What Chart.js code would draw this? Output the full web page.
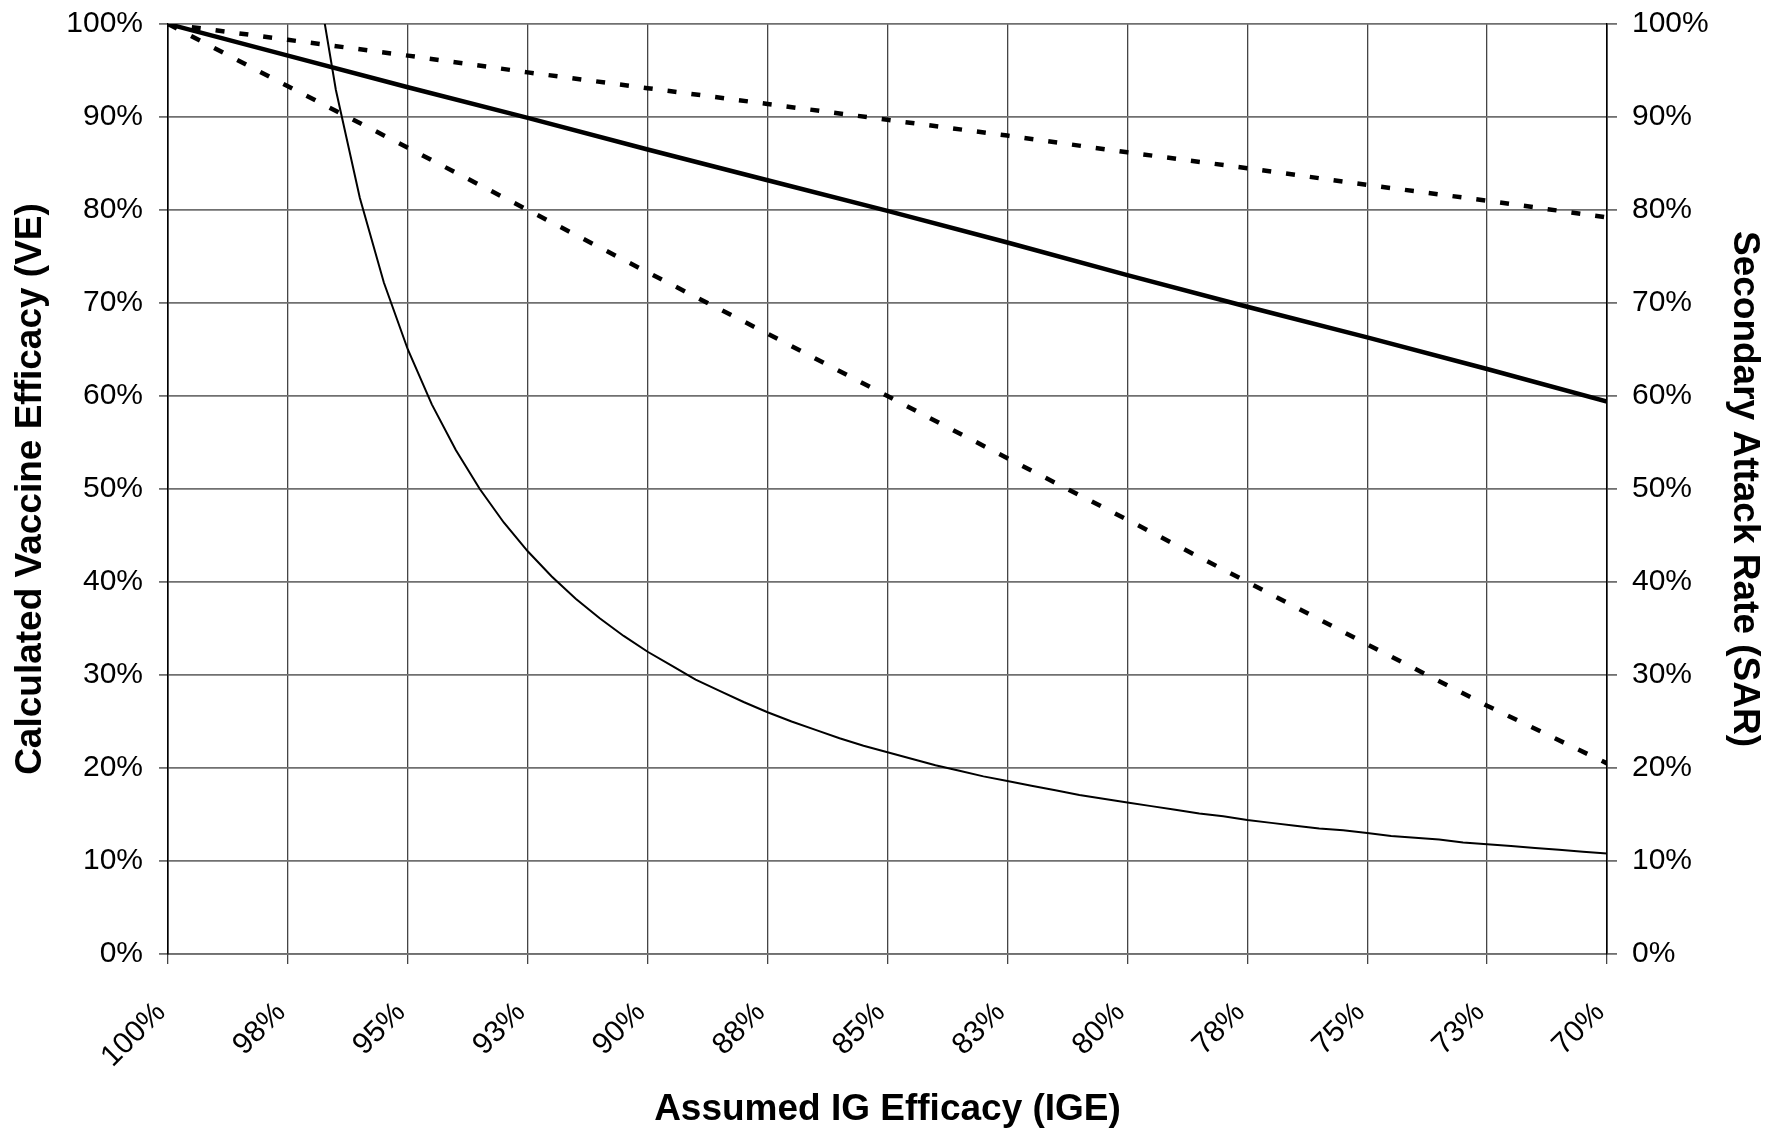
<!DOCTYPE html>
<html>
<head>
<meta charset="utf-8">
<script src="https://cdn.jsdelivr.net/npm/chart.js@4.4.1/dist/chart.umd.min.js"></script>
<style>
  html, body { margin: 0; padding: 0; background: #ffffff; }
  #wrap { width: 1767px; height: 1128px; position: relative; }
</style>
</head>
<body>
<div id="wrap"><canvas id="c" width="1767" height="1128"></canvas></div>
<script>
// Assumed IG efficacy (x, %) for the three VE lines
const igeSteps = [100, 97.5, 95, 92.5, 90, 87.5, 85, 82.5, 80, 77.5, 75, 72.5, 70];
// Calculated vaccine efficacy (%)
const veMid   = [100, 96.6, 93.2, 89.9, 86.5, 83.2, 79.9, 76.5, 73.0, 69.6, 66.3, 62.9, 59.4];
const veHigh  = [100, 98.3, 96.6, 94.8, 93.1, 91.4, 89.7, 88.0, 86.2, 84.5, 82.7, 81.0, 79.2];
const veLow   = [100, 93.3, 86.7, 80.0, 73.3, 66.7, 60.0, 53.3, 46.7, 40.0, 33.3, 26.7, 20.5];
// Secondary attack rate (%)
const sarIge = [97, 96.5, 96, 95.5, 95, 94.5, 94, 93.5, 93, 92.5, 92, 91.5, 91, 90.5, 90,
                89.5, 89, 88.5, 88, 87.5, 87, 86.5, 86, 85.5, 85, 84.5, 84, 83.5, 83, 82.5,
                82, 81.5, 81, 80.5, 80, 79.5, 79, 78.5, 78, 77.5, 77, 76.5, 76, 75.5, 75,
                74.5, 74, 73.5, 73, 72.5, 72, 71.5, 71, 70.5, 70];
const sarVal = [108.3, 92.9, 81.3, 72.2, 65.0, 59.1, 54.2, 50.0, 46.4, 43.3, 40.6, 38.2, 36.1, 34.2, 32.5,
                31.0, 29.5, 28.3, 27.1, 26.0, 25.0, 24.1, 23.2, 22.4, 21.7, 21.0, 20.3, 19.7, 19.1, 18.6,
                18.1, 17.6, 17.1, 16.7, 16.3, 15.9, 15.5, 15.1, 14.8, 14.4, 14.1, 13.8, 13.5, 13.3, 13.0,
                12.7, 12.5, 12.3, 12.0, 11.8, 11.6, 11.4, 11.2, 11.0, 10.8];
// Axis titles
const xTitle = 'Assumed IG Efficacy (IGE)';
const yTitle = 'Calculated Vaccine Efficacy (VE)';
const y2Title = 'Secondary Attack Rate (SAR)';

function pts(xs, ys) { return xs.map((x, i) => ({ x: x, y: ys[i] })); }

const FONT = "'Liberation Sans', Arial, Helvetica, sans-serif";
const VGRID = '#454545';
const HGRID = '#707070';

new Chart(document.getElementById('c'), {
  type: 'line',
  data: {
    datasets: [
      { label: 'VE high', data: pts(igeSteps, veHigh), yAxisID: 'y', borderColor: '#000', borderWidth: 4.5,
        borderDash: [9, 15], pointRadius: 0, tension: 0, fill: false },
      { label: 'VE mid', data: pts(igeSteps, veMid), yAxisID: 'y', borderColor: '#000', borderWidth: 4.5,
        pointRadius: 0, tension: 0, fill: false },
      { label: 'VE low', data: pts(igeSteps, veLow), yAxisID: 'y', borderColor: '#000', borderWidth: 4.5,
        borderDash: [10, 16], pointRadius: 0, tension: 0, fill: false },
      { label: 'SAR', data: pts(sarIge, sarVal), yAxisID: 'y2', borderColor: '#000', borderWidth: 2,
        pointRadius: 0, tension: 0, fill: false, clip: 0 }
    ]
  },
  options: {
    responsive: false,
    animation: false,
    events: [],
    layout: { padding: { top: 24, left: 0, right: 0, bottom: 0 } },
    plugins: { legend: { display: false }, tooltip: { enabled: false }, title: { display: false } },
    scales: {
      x: {
        type: 'linear', reverse: true, min: 70, max: 100,
        border: { display: true, color: HGRID, width: 1.8 },
        grid: { color: VGRID, lineWidth: 1.3, tickLength: 10, drawTicks: true },
        ticks: {
          stepSize: 2.5, autoSkip: false, maxRotation: 45, minRotation: 45, padding: 31, labelOffset: -7,
          color: '#000', font: { family: FONT, size: 30 },
          callback: (v) => Math.round(v) + '%'
        },
        title: { display: true, text: xTitle, color: '#000',
                 font: { family: FONT, size: 37, weight: 'bold', lineHeight: 1.0 },
                 padding: { top: 0, bottom: 0 } },
        afterFit: (s) => { s.height = 174; s.paddingLeft = 0; s.paddingRight = 0; }
      },
      y: {
        position: 'left', min: 0, max: 100,
        border: { display: true, color: '#000', width: 1.6 },
        grid: { color: HGRID, lineWidth: 1.8, tickLength: 9 },
        ticks: { stepSize: 10, padding: 16, color: '#000', font: { family: FONT, size: 30 },
                 callback: (v) => v + '%' },
        title: { display: true, text: yTitle, color: '#000', font: { family: FONT, size: 37, weight: 'bold' },
                 padding: { top: 9, bottom: 0 } },
        afterFit: (s) => { s.width = 168; s.paddingTop = 0; s.paddingBottom = 0; }
      },
      y2: {
        position: 'right', min: 0, max: 100,
        border: { display: true, color: '#000', width: 1.6 },
        grid: { drawOnChartArea: false, color: HGRID, lineWidth: 1.8, tickLength: 10 },
        ticks: { stepSize: 10, padding: 15, color: '#000', font: { family: FONT, size: 30 },
                 callback: (v) => v + '%' },
        title: { display: true, text: y2Title, color: '#000', font: { family: FONT, size: 37, weight: 'bold' },
                 padding: { top: 1, bottom: 0 } },
        afterFit: (s) => { s.width = 160; s.paddingTop = 0; s.paddingBottom = 0; }
      }
    }
  }
});
</script>
</body>
</html>
